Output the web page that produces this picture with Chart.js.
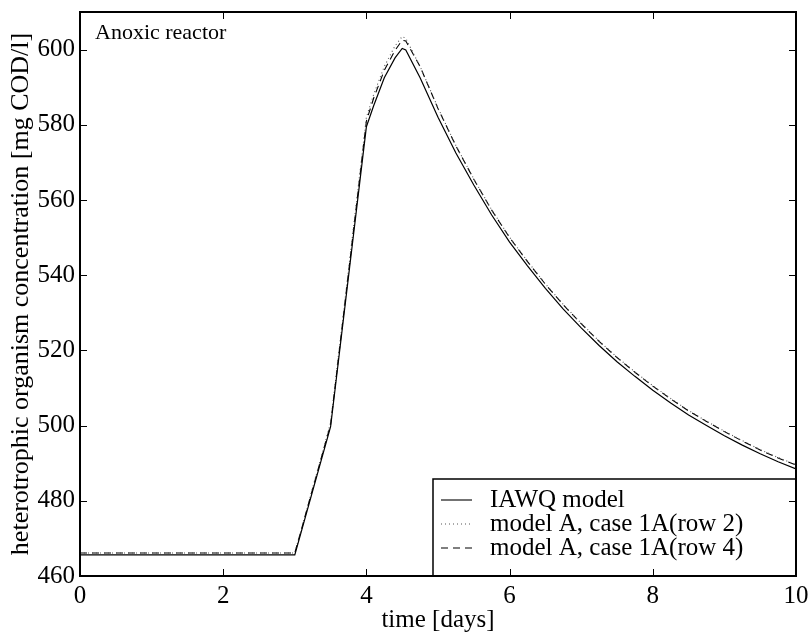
<!DOCTYPE html>
<html>
<head>
<meta charset="utf-8">
<script src="https://cdn.jsdelivr.net/npm/chart.js@4.4.1/dist/chart.umd.min.js"></script>
<style>
  body { margin: 0; background: #fff; }
</style>
</head>
<body>
<canvas id="grafico" width="810" height="635"></canvas>
<script>
// time axis (days)
const dias = [0, 3, 3.5, 4, 4.1, 4.25, 4.4, 4.5, 4.55, 4.75, 5, 5.25, 5.5, 5.75, 6, 6.25, 6.5, 6.75, 7, 7.25, 7.5, 7.75, 8, 8.25, 8.5, 8.75, 9, 9.25, 9.5, 9.75, 10];

// heterotrophic organism concentration [mg COD/l]
const iawq = [465.6, 465.6, 499.7, 579.5, 585.0, 592.5, 597.8, 600.3, 599.9, 592.5, 582.0, 572.5, 564.0, 556.0, 548.8, 542.5, 536.5, 531.0, 526.0, 521.3, 517.0, 513.1, 509.4, 506.0, 502.8, 500.0, 497.3, 494.8, 492.5, 490.4, 488.5];
const linha2 = [466.1, 466.1, 500.8, 582.0, 588.0, 595.5, 601.0, 603.5, 603.0, 595.5, 584.5, 574.5, 565.6, 557.4, 550.1, 543.7, 537.7, 532.2, 527.2, 522.5, 518.2, 514.3, 510.6, 507.2, 504.0, 501.2, 498.5, 496.0, 493.6, 491.5, 489.6];
const linha4 = [466.1, 466.1, 500.3, 581.0, 587.0, 594.5, 599.8, 602.5, 602.3, 595.5, 584.3, 574.4, 565.5, 557.3, 550.0, 543.6, 537.6, 532.1, 527.1, 522.4, 518.1, 514.2, 510.5, 507.1, 503.9, 501.1, 498.4, 495.9, 493.5, 491.4, 489.5];

const nomes = ['IAWQ model', 'model A, case 1A(row 2)', 'model A, case 1A(row 4)'];
const xTicks = [0, 2, 4, 6, 8, 10];
const yTicks = [460, 480, 500, 520, 540, 560, 580, 600];

const fonte = '"Liberation Serif", "Times New Roman", serif';

function pontos(vals) {
  return dias.map((d, i) => ({ x: d, y: vals[i] }));
}

const estilos = [
  { cor: '#000', dash: [], largura: 1.2 },
  { cor: '#555', dash: [1, 3], largura: 1.1 },
  { cor: '#000', dash: [7, 5], largura: 1.1 }
];

const molduraPlugin = {
  id: 'moldura',
  afterDatasetsDraw(chart) {
    const ctx = chart.ctx;
    const a = chart.chartArea;
    const sx = chart.scales.x, sy = chart.scales.y;
    ctx.save();

    // legend box inside plot, lower right
    const lx = a.right - 363, ly = a.bottom - 97;
    ctx.fillStyle = '#fff';
    ctx.fillRect(lx, ly, a.right - lx, a.bottom - ly);
    ctx.strokeStyle = '#000';
    ctx.lineWidth = 1.5;
    ctx.strokeRect(lx, ly, a.right - lx, a.bottom - ly);
    ctx.font = '25px ' + fonte;
    ctx.textBaseline = 'middle';
    ctx.textAlign = 'left';
    nomes.forEach((n, i) => {
      const y = ly + 21 + i * 24;
      ctx.beginPath();
      ctx.setLineDash(estilos[i].dash);
      ctx.strokeStyle = estilos[i].cor;
      ctx.lineWidth = 1.1;
      ctx.moveTo(lx + 8, y);
      ctx.lineTo(lx + 39, y);
      ctx.stroke();
      ctx.setLineDash([]);
      ctx.fillStyle = '#000';
      ctx.fillText(n, lx + 57, y);
    });

    // inward ticks on all four sides
    ctx.strokeStyle = '#000';
    ctx.lineWidth = 1;
    ctx.beginPath();
    xTicks.forEach(v => {
      const px = Math.round(sx.getPixelForValue(v)) + 0.5;
      ctx.moveTo(px, a.bottom); ctx.lineTo(px, a.bottom - 7);
      ctx.moveTo(px, a.top); ctx.lineTo(px, a.top + 7);
    });
    yTicks.forEach(v => {
      const py = Math.round(sy.getPixelForValue(v)) + 0.5;
      ctx.moveTo(a.left, py); ctx.lineTo(a.left + 7, py);
      ctx.moveTo(a.right, py); ctx.lineTo(a.right - 7, py);
    });
    ctx.stroke();

    // axes box
    ctx.lineWidth = 2;
    ctx.strokeRect(a.left, a.top, a.right - a.left, a.bottom - a.top);

    // label
    ctx.font = '22px ' + fonte;
    ctx.fillStyle = '#000';
    ctx.textBaseline = 'alphabetic';
    ctx.fillText('Anoxic reactor', a.left + 15, a.top + 27);
    ctx.restore();
  }
};

const ctx = document.getElementById('grafico');

new Chart(ctx, {
  type: 'line',
  data: {
    datasets: [iawq, linha2, linha4].map((v, i) => ({
      label: nomes[i],
      data: pontos(v),
      borderColor: estilos[i].cor,
      borderDash: estilos[i].dash,
      borderWidth: estilos[i].largura,
      pointRadius: 0,
      tension: 0,
      fill: false
    }))
  },
  options: {
    responsive: false,
    animation: false,
    devicePixelRatio: 1,
    layout: { padding: { top: 12, right: 14, left: 0, bottom: 0 } },
    plugins: {
      legend: { display: false },
      tooltip: { enabled: false }
    },
    scales: {
      x: {
        type: 'linear',
        min: 0,
        max: 10,
        grid: { display: false, drawTicks: false },
        border: { display: false },
        ticks: { stepSize: 2, color: '#000', font: { family: fonte, size: 25 }, padding: 5, maxRotation: 0 },
        title: { display: true, text: 'time [days]', color: '#000', font: { family: fonte, size: 25 }, padding: { top: 0, bottom: 0 } },
        afterFit(scale) {
          scale.height = 59;
          scale.paddingLeft = 0;
          scale.paddingRight = 0;
        }
      },
      y: {
        min: 460,
        max: 610,
        grid: { display: false, drawTicks: false },
        border: { display: false },
        ticks: { stepSize: 20, includeBounds: false, color: '#000', font: { family: fonte, size: 25 }, padding: 5 },
        title: { display: true, text: 'heterotrophic organism concentration [mg COD/l]', color: '#000', font: { family: fonte, size: 26 }, padding: { top: 6, bottom: 0 } },
        afterFit(scale) {
          scale.width = 80;
          scale.paddingTop = 0;
          scale.paddingBottom = 0;
        }
      }
    }
  },
  plugins: [molduraPlugin]
});
</script>
</body>
</html>
